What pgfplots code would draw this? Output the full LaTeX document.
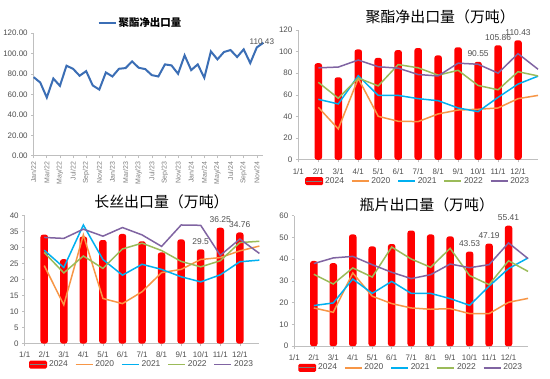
\documentclass[border=0pt]{standalone}
\usepackage{pgfplots}
\pgfplotsset{compat=1.18}
\usepackage{fontspec}
\setmainfont{Liberation Sans}
\newfontfamily\cjk{Noto Sans CJK SC}
\definecolor{c2020}{HTML}{F79646}
\definecolor{c2021}{HTML}{00B0F0}
\definecolor{c2022}{HTML}{9BBB59}
\definecolor{c2023}{HTML}{8064A2}
\definecolor{cblue}{HTML}{3B6EB5}
\definecolor{tickgray}{HTML}{505050}
\definecolor{axgray}{HTML}{BFBFBF}
\pgfplotsset{
  base/.style={scale only axis, anchor=south west, axis lines*=left,
    axis line style={draw=axgray, line width=0.6bp},
    tick align=outside, major tick length=2.5bp,
    tick style={draw=axgray, line width=0.6bp},
    ticklabel style={font=\fontsize{8}{9}\selectfont, text=tickgray},
    /pgf/number format/assume math mode=true,
    scaled ticks=false, clip=false,
    legend style={draw=none, fill=none, font=\fontsize{8.5}{10}\selectfont, text=tickgray}},
  yearly/.style={base, xmin=1, xmax=13, xtick={1,...,12},
    xticklabels={1/1,2/1,3/1,4/1,5/1,6/1,7/1,8/1,9/1,10/1,11/1,12/1},
    xticklabel style={yshift=-2.5bp},
    legend columns=-1,
    legend style={at={(0.5,-0.165)}, anchor=center,
      /tikz/every even column/.append style={column sep=5bp}},
    title style={font=\cjk\fontsize{15}{18}\selectfont, anchor=center}},
  bar24/.style={ybar, bar width=7.5bp, fill=red, draw=none, rounded corners=2.5bp,
    legend image code/.code={\fill[red, rounded corners=1.5bp] (0bp,-4bp) rectangle (18bp,4bp);
      \draw[gray, line width=0.8bp, rounded corners=0pt] (1bp,0bp) -- (17bp,0bp);}},
  l20/.style={c2020, line width=1.5bp, mark=none},
  l21/.style={c2021, line width=1.5bp, mark=none},
  l22/.style={c2022, line width=1.5bp, mark=none},
  l23/.style={c2023, line width=1.5bp, mark=none},
  lab/.style={draw=none, mark=none, forget plot, nodes near coords, point meta=explicit symbolic,
    nodes near coords style={font=\fontsize{8.5}{10}\selectfont, text=tickgray, anchor=south, yshift=1.5bp}},
}
\begin{document}
\begin{tikzpicture}
\fill[white] (0,0) rectangle (550bp,379bp);
% ---------------- top-left
\begin{axis}[base, at={(33bp,223bp)}, width=230bp, height=123bp,
  xmin=0, xmax=35, ymin=0, ymax=120, ytick={0,20,...,120},
  yticklabel style={/pgf/number format/.cd, fixed, fixed zerofill, precision=2},
  xtick={0,2,...,34},
  xticklabels={Jan/22,Mar/22,May/22,Jul/22,Sep/22,Nov/22,Jan/23,Mar/23,May/23,Jul/23,Sep/23,Nov/23,Jan/24,Mar/24,May/24,Jul/24,Sep/24,Nov/24},
  xticklabel style={rotate=90, anchor=east, font=\fontsize{7}{8}\selectfont, text=gray},
  legend style={at={(0.465,1.08)}, anchor=center, font=\cjk\bfseries\fontsize{10.5}{12}\selectfont, text=black}]
\addplot[cblue, line width=2bp, mark=none] coordinates {
(0,76.8) (1,71.6) (2,56.9) (3,75.5) (4,68.3) (5,88.0) (6,85.0) (7,78.2) (8,82.7) (9,68.7)
(10,64.7) (11,81.4) (12,77.5) (13,85.0) (14,85.7) (15,92.2) (16,86.0) (17,84.7) (18,78.8) (19,77.5)
(20,89.3) (21,88.3) (22,80.1) (23,98.1) (24,83.7) (25,89.3) (26,76.2) (27,102.0) (28,94.2) (29,101.4)
(30,103.3) (31,96.5) (32,104.0) (33,90.55) (34,105.86) (35,110.43)};
\addlegendentry{聚酯净出口量}
\addplot[draw=none, mark=none, forget plot, nodes near coords, point meta=explicit symbolic,
  nodes near coords style={font=\fontsize{8.2}{10}\selectfont, text=tickgray, anchor=center, xshift=-1.5bp, yshift=1bp}]
  coordinates {(35,110.43) [110.43]};
\end{axis}
% ---------------- top-right
\begin{axis}[yearly, at={(298bp,219bp)}, width=240bp, height=130bp,
  ymin=0, ymax=120, ytick={0,20,...,120},
  title={聚酯净出口量（万吨）}, title style={at={(0.592,1.054)}}]
\addplot[bar24] coordinates {(2,89.3) (3,76.2) (4,102.0) (5,94.2) (6,101.4) (7,103.3) (8,96.5) (9,104.0) (10,90.55) (11,105.86) (12,110.43)};
\addlegendentry{2024}
\addplot[l20] coordinates {(2,48.5) (3,28.5) (4,75.2) (5,40.2) (6,35.6) (7,35.3) (8,42.4) (9,46.0) (10,46.7) (11,47.9) (12,56.5) (13,59.5)};
\addlegendentry{2020}
\addplot[l21] coordinates {(2,55.9) (3,51.6) (4,77.7) (5,59.5) (6,59.5) (7,56.5) (8,54.6) (9,47.9) (10,44.5) (11,57.7) (12,70.0) (13,77.3)};
\addlegendentry{2021}
\addplot[l22] coordinates {(2,71.6) (3,56.9) (4,75.5) (5,68.3) (6,88.0) (7,85.0) (8,78.2) (9,82.7) (10,68.7) (11,64.7) (12,81.4) (13,77.5)};
\addlegendentry{2022}
\addplot[l23] coordinates {(2,85.0) (3,85.7) (4,92.2) (5,86.0) (6,84.7) (7,78.8) (8,77.5) (9,89.3) (10,88.3) (11,80.1) (12,98.1) (13,83.7)};
\addlegendentry{2023}
\addplot[lab] coordinates {(10,90.55) [90.55] (11,105.86) [105.86] (12,110.43) [110.43]};
\end{axis}
% ---------------- bottom-left
\begin{axis}[yearly, at={(24bp,35bp)}, width=235bp, height=128bp,
  ymin=0, ymax=40, ytick={0,5,...,40},
  title={长丝出口量（万吨）}, title style={at={(0.583,1.0625)}}]
\addplot[bar24] coordinates {(2,34.1) (3,26.4) (4,33.5) (5,32.4) (6,34.3) (7,32.0) (8,28.5) (9,32.6) (10,29.5) (11,36.25) (12,34.76)};
\addlegendentry{2024}
\addplot[l20] coordinates {(2,24.4) (3,12.1) (4,34.0) (5,14.1) (6,12.5) (7,16.2) (8,22.2) (9,23.2) (10,26.3) (11,26.9) (12,29.0) (13,30.5)};
\addlegendentry{2020}
\addplot[l21] coordinates {(2,29.2) (3,23.8) (4,37.1) (5,26.3) (6,21.4) (7,24.8) (8,23.2) (9,20.9) (10,19.3) (11,21.5) (12,25.6) (13,26.1)};
\addlegendentry{2021}
\addplot[l22] coordinates {(2,28.5) (3,22.1) (4,27.4) (5,23.5) (6,29.6) (7,31.4) (8,29.1) (9,25.7) (10,24.0) (11,25.9) (12,31.6) (13,32.0)};
\addlegendentry{2022}
\addplot[l23] coordinates {(2,33.2) (3,32.9) (4,35.8) (5,33.6) (6,36.3) (7,34.0) (8,30.4) (9,37.1) (10,37.0) (11,27.6) (12,32.7) (13,28.2)};
\addlegendentry{2023}
\addplot[lab] coordinates {(10,29.5) [29.5] (11,36.25) [36.25] (12,34.76) [34.76]};
\end{axis}
% ---------------- bottom-right
\begin{axis}[yearly, at={(294bp,32.3bp)}, width=234bp, height=130.7bp,
  ymin=0, ymax=60, ytick={0,10,...,60},
  title={瓶片出口量（万吨）}, title style={at={(0.567,1.038)}}]
\addplot[bar24] coordinates {(2,39.2) (3,38.2) (4,51.4) (5,45.9) (6,47.0) (7,53.2) (8,51.4) (9,50.5) (10,43.53) (11,47.19) (12,55.41)};
\addlegendentry{2024}
\addplot[l20] coordinates {(2,17.6) (3,15.6) (4,33.7) (5,23.0) (6,19.6) (7,17.6) (8,17.0) (9,17.3) (10,15.0) (11,15.0) (12,20.2) (13,22.0)};
\addlegendentry{2020}
\addplot[l21] coordinates {(2,18.7) (3,19.9) (4,30.9) (5,24.3) (6,29.8) (7,24.3) (8,24.3) (9,21.9) (10,18.8) (11,27.6) (12,35.7) (13,40.6)};
\addlegendentry{2021}
\addplot[l22] coordinates {(2,33.1) (3,28.6) (4,36.0) (5,31.8) (6,45.6) (7,40.1) (8,36.3) (9,45.0) (10,32.5) (11,28.3) (12,39.3) (13,34.4)};
\addlegendentry{2022}
\addplot[l23] coordinates {(2,38.0) (3,40.6) (4,41.3) (5,37.5) (6,34.0) (7,31.1) (8,32.9) (9,37.8) (10,36.1) (11,37.5) (12,47.5) (13,40.3)};
\addlegendentry{2023}
\addplot[lab] coordinates {(10,43.53) [43.53] (11,47.19) [47.19] (12,55.41) [55.41]};
\end{axis}
\end{tikzpicture}
\end{document}
